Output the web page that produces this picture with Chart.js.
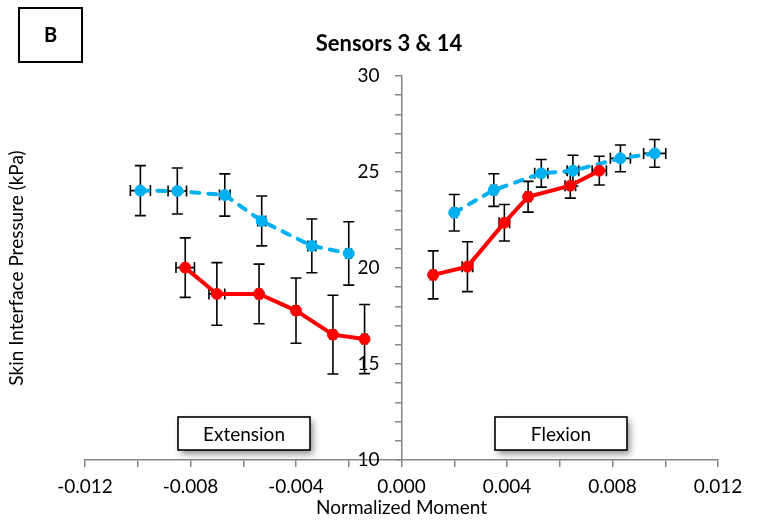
<!DOCTYPE html>
<html>
<head>
<meta charset="utf-8">
<title>Sensors 3 &amp; 14</title>
<script src="https://cdn.jsdelivr.net/npm/chart.js@4.4.1/dist/chart.umd.min.js"></script>
<style>
  body { margin: 0; background: #fff; }
  #wrap { width: 759px; height: 520px; }
</style>
</head>
<body>
<div id="wrap"><canvas id="pressureChart" width="759" height="520"></canvas></div>
<script>
// Extension side (negative moment)
const extBlueX = [-0.0099, -0.0085, -0.0067, -0.0053, -0.0034, -0.0020];
const extBlueY = [24.03, 24.01, 23.80, 22.45, 21.15, 20.76];
const extBlueYErr = [1.30, 1.20, 1.10, 1.30, 1.40, 1.65];
const extBlueXErr = [0.00038, 0.00035, 0.0002, 0.00015, 0.00015, 0.0001];

const extRedX = [-0.0082, -0.0070, -0.0054, -0.0040, -0.0026, -0.0014];
const extRedY = [20.02, 18.65, 18.65, 17.78, 16.53, 16.30];
const extRedYErr = [1.55, 1.63, 1.55, 1.70, 2.05, 1.80];
const extRedXErr = [0.00035, 0.0003, 0.0001, 0.0001, 0.0001, 0.0001];

// Flexion side (positive moment)
const flxBlueX = [0.0020, 0.0035, 0.0053, 0.0065, 0.0083, 0.0096];
const flxBlueY = [22.88, 24.06, 24.93, 25.07, 25.71, 25.97];
const flxBlueYErr = [0.95, 0.85, 0.72, 0.80, 0.70, 0.72];
const flxBlueXErr = [0.0001, 0.0001, 0.00025, 0.00022, 0.00038, 0.00042];

const flxRedX = [0.0012, 0.0025, 0.0039, 0.0048, 0.0064, 0.0075];
const flxRedY = [19.64, 20.07, 22.36, 23.71, 24.29, 25.07];
const flxRedYErr = [1.25, 1.30, 0.95, 0.80, 0.65, 0.75];
const flxRedXErr = [0.0001, 0.0002, 0.0002, 0.0001, 0.0002, 0.00027];

const X_MIN = -0.012, X_MAX = 0.012;
const Y_MIN = 10, Y_MAX = 30;

const RED = '#FF0000';
const BLUE = '#00B0F0';
const AXIS = '#868686';
const FONT = 'Lato, "Open Sans", sans-serif';

function toPoints(xs, ys) {
    return xs.map((x, i) => ({ x: x, y: ys[i] }));
}

function redSeries(xs, ys, xErr, yErr) {
    return {
        data: toPoints(xs, ys),
        xErr: xErr,
        yErr: yErr,
        showLine: true,
        borderColor: RED,
        backgroundColor: RED,
        borderWidth: 4,
        pointRadius: 5.5,
        pointBorderWidth: 1,
        pointBackgroundColor: RED,
        pointBorderColor: RED
    };
}

function blueSeries(xs, ys, xErr, yErr) {
    return {
        data: toPoints(xs, ys),
        xErr: xErr,
        yErr: yErr,
        showLine: true,
        borderColor: BLUE,
        backgroundColor: BLUE,
        borderWidth: 4,
        borderDash: [8, 9],
        borderCapStyle: 'round',
        pointRadius: 5.5,
        pointBorderWidth: 1,
        pointBackgroundColor: BLUE,
        pointBorderColor: BLUE
    };
}

// x and y error bars, drawn under the lines and markers
const errorBars = {
    id: 'errorBars',
    beforeDatasetsDraw(chart) {
        const ctx = chart.ctx;
        const xs = chart.scales.x;
        const ys = chart.scales.y;
        const cap = 5.5;
        ctx.save();
        ctx.strokeStyle = '#000';
        ctx.lineWidth = 1.6;
        chart.data.datasets.forEach(ds => {
            ds.data.forEach((p, i) => {
                const px = xs.getPixelForValue(p.x);
                const py = ys.getPixelForValue(p.y);
                const top = ys.getPixelForValue(p.y + ds.yErr[i]);
                const bot = ys.getPixelForValue(p.y - ds.yErr[i]);
                const lft = xs.getPixelForValue(p.x - ds.xErr[i]);
                const rgt = xs.getPixelForValue(p.x + ds.xErr[i]);
                ctx.beginPath();
                ctx.moveTo(px, top); ctx.lineTo(px, bot);
                ctx.moveTo(px - cap, top); ctx.lineTo(px + cap, top);
                ctx.moveTo(px - cap, bot); ctx.lineTo(px + cap, bot);
                ctx.moveTo(lft, py); ctx.lineTo(rgt, py);
                ctx.moveTo(lft, py - cap); ctx.lineTo(lft, py + cap);
                ctx.moveTo(rgt, py - cap); ctx.lineTo(rgt, py + cap);
                ctx.stroke();
            });
        });
        ctx.restore();
    }
};

function shadowBox(ctx, x, y, w, h, text) {
    ctx.save();
    ctx.shadowColor = 'rgba(0,0,0,0.45)';
    ctx.shadowBlur = 7;
    ctx.shadowOffsetX = 3;
    ctx.shadowOffsetY = 4;
    ctx.fillStyle = '#fff';
    ctx.fillRect(x, y, w, h);
    ctx.restore();
    ctx.save();
    ctx.strokeStyle = '#000';
    ctx.lineWidth = 1.6;
    ctx.strokeRect(x, y, w, h);
    ctx.fillStyle = '#000';
    ctx.font = '19px ' + FONT;
    ctx.textAlign = 'center';
    ctx.textBaseline = 'middle';
    ctx.fillText(text, x + w / 2, y + h / 2 + 1);
    ctx.restore();
}

// panel letter, title and the two region labels
const panelText = {
    id: 'panelText',
    afterDraw(chart) {
        const ctx = chart.ctx;
        ctx.save();
        ctx.strokeStyle = '#000';
        ctx.lineWidth = 2;
        ctx.strokeRect(19, 8, 63, 54);
        ctx.fillStyle = '#000';
        ctx.font = 'bold 20px ' + FONT;
        ctx.textAlign = 'center';
        ctx.textBaseline = 'middle';
        ctx.fillText('B', 50.5, 36);
        ctx.font = 'bold 22px ' + FONT;
        ctx.fillText('Sensors 3 & 14', 389, 44);
        ctx.restore();
        shadowBox(ctx, 178, 417, 132, 33, 'Extension');
        shadowBox(ctx, 495, 417, 132, 33, 'Flexion');
    }
};

new Chart(document.getElementById('pressureChart'), {
    type: 'scatter',
    data: {
        datasets: [
            redSeries(extRedX, extRedY, extRedXErr, extRedYErr),
            redSeries(flxRedX, flxRedY, flxRedXErr, flxRedYErr),
            blueSeries(extBlueX, extBlueY, extBlueXErr, extBlueYErr),
            blueSeries(flxBlueX, flxBlueY, flxBlueXErr, flxBlueYErr)
        ]
    },
    options: {
        responsive: false,
        animation: false,
        layout: { padding: { left: 0, right: 41, top: 76, bottom: 0 } },
        plugins: {
            legend: { display: false },
            tooltip: { enabled: false }
        },
        scales: {
            x: {
                type: 'linear',
                position: 'bottom',
                min: X_MIN,
                max: X_MAX,
                afterFit(s) { s.height = 60; },
                ticks: {
                    stepSize: 0.002,
                    autoSkip: false,
                    maxRotation: 0,
                    padding: 8,
                    color: '#000',
                    font: { family: FONT, size: 19 },
                    callback: v => {
                        if (Math.round(v / 0.002) % 2 !== 0) return '';
                        return Math.abs(v) < 1e-9 ? '0.000' : v.toFixed(3);
                    }
                },
                grid: { drawOnChartArea: false, tickLength: 7, color: AXIS, lineWidth: 1.5 },
                border: { color: AXIS, width: 1.5 },
                title: {
                    display: true,
                    text: 'Normalized Moment',
                    color: '#000',
                    font: { family: FONT, size: 19 },
                    padding: { top: 0, bottom: 1 }
                }
            },
            y: {
                type: 'linear',
                position: { x: 0 },
                min: Y_MIN,
                max: Y_MAX,
                afterFit(s) { s.width = 0; },
                ticks: {
                    stepSize: 1,
                    autoSkip: false,
                    color: '#000',
                    font: { family: FONT, size: 19 },
                    // figure spaces keep the labels clear of the centred axis line
                    callback: v => (v % 5 === 0 ? v + '\u2007\u2007' : '')
                },
                grid: { drawOnChartArea: false, tickLength: 6, color: AXIS, lineWidth: 1.5 },
                border: { color: AXIS, width: 1.5 }
            },
            yTitle: {
                type: 'linear',
                position: 'left',
                min: 0,
                max: 1,
                afterFit(s) { s.width = 85; },
                ticks: { display: false },
                grid: { display: false },
                border: { display: false },
                title: {
                    display: true,
                    text: 'Skin Interface Pressure (kPa)',
                    color: '#000',
                    font: { family: FONT, size: 19 },
                    padding: { top: 5, bottom: 0 }
                }
            }
        }
    },
    plugins: [errorBars, panelText]
});
</script>
</body>
</html>
